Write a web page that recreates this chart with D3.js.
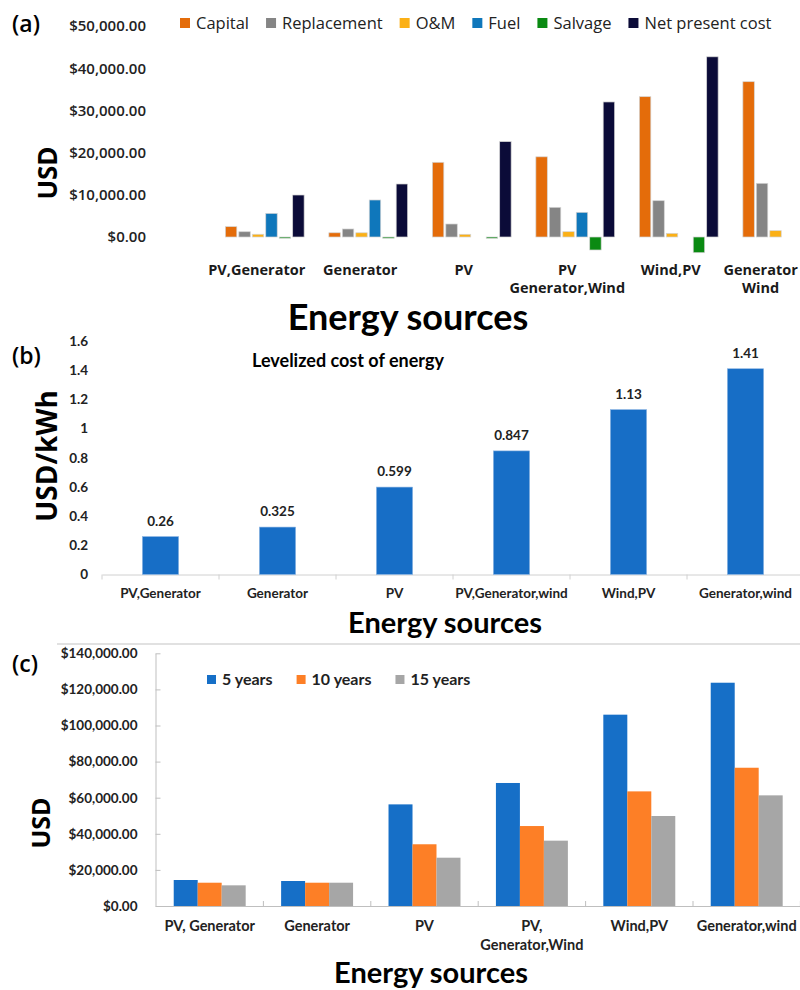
<!DOCTYPE html>
<html>
<head>
<meta charset="utf-8">
<script src="https://cdn.jsdelivr.net/npm/d3@7"></script>
<style>
  body { margin: 0; background: #fff; }
  svg { display: block; }
</style>
</head>
<body>
<svg id="chart" width="800" height="990"></svg>
<script>
// ---- panel (a): cost breakdown ----
var catsA = ["PV,Generator", "Generator", "PV", "PV\nGenerator,Wind", "Wind,PV", "Generator\nWind"];
var seriesA = ["Capital", "Replacement", "O&M", "Fuel", "Salvage", "Net present cost"];
var colorsA = ["#e46c0a", "#858585", "#fbb016", "#0f77bb", "#0a8a12", "#0b0b38"];
var capital = [2450, 1000, 17700, 19000, 33250, 36800];
var replacement = [1250, 1900, 3080, 7030, 8600, 12720];
var om = [650, 1000, 640, 1260, 870, 1500];
var fuel = [5600, 8770, 0, 5850, 0, 0];
var salvage = [-200, -200, -300, -3080, -3720, null];
var npc = [9950, 12560, 22600, 32000, 42700, null];
var ticksA = [0, 10000, 20000, 30000, 40000, 50000];

// ---- panel (b): levelized cost of energy ----
var catsB = ["PV,Generator", "Generator", "PV", "PV,Generator,wind", "Wind,PV", "Generator,wind"];
var lcoe = [0.26, 0.325, 0.599, 0.847, 1.13, 1.41];
var lcoeLabels = ["0.26", "0.325", "0.599", "0.847", "1.13", "1.41"];
var ticksB = [0, 0.2, 0.4, 0.6, 0.8, 1, 1.2, 1.4, 1.6];

// ---- panel (c): cost by project lifetime ----
var catsC = ["PV, Generator", "Generator", "PV", "PV,\nGenerator,Wind", "Wind,PV", "Generator,wind"];
var seriesC = ["5 years", "10 years", "15 years"];
var colorsC = ["#166fc7", "#fd7f26", "#a6a6a6"];
var years5 = [14400, 13850, 56300, 68150, 106000, 123700];
var years10 = [12900, 12900, 34200, 44300, 63500, 76600];
var years15 = [11450, 12900, 26760, 36200, 49860, 61300];
var ticksC = [0, 20000, 40000, 60000, 80000, 100000, 120000, 140000];

var svg = d3.select("#chart");
var money = d3.format(",.2f");

function multiLine(sel, lineH) {
  sel.each(function(d) {
    var t = d3.select(this);
    d.split("\n").forEach(function(line, i) {
      t.append("tspan").attr("x", t.attr("x")).attr("dy", i === 0 ? 0 : lineH).text(line);
    });
  });
}

// =============== (a) ===============
var valuesA = [capital, replacement, om, fuel, salvage, npc];
var gA = svg.append("g");

var xA = d3.scaleBand().domain(catsA).range([213, 834]).paddingInner(0.2).paddingOuter(0.1);
var xA1 = d3.scaleBand().domain(d3.range(seriesA.length)).range([0, xA.bandwidth()]).padding(0.15);
var yA = d3.scaleLinear().domain([0, 50000]).range([237, 26]);

gA.append("defs").append("clipPath").attr("id", "clipA")
  .append("rect").attr("x", 0).attr("y", 0).attr("width", 795).attr("height", 300);

gA.append("g")
  .attr("transform", "translate(150,0)")
  .call(d3.axisLeft(yA).tickValues(ticksA).tickSize(0).tickPadding(4)
    .tickFormat(function(d) { return "$" + money(d); }))
  .call(function(g) { g.select(".domain").remove(); })
  .selectAll("text")
  .style("font-family", "Open Sans").style("font-weight", "600").style("font-size", "15px").attr("fill", "#222");

var barsA = gA.append("g").attr("clip-path", "url(#clipA)");
catsA.forEach(function(c, i) {
  valuesA.forEach(function(vals, s) {
    var v = vals[i];
    if (v === null || v === 0) return;
    barsA.append("rect")
      .attr("x", xA(c) + xA1(s))
      .attr("y", Math.min(yA(v), yA(0)))
      .attr("width", xA1.bandwidth())
      .attr("height", Math.max(1.2, Math.abs(yA(v) - yA(0))))
      .attr("fill", colorsA[s])
      .attr("stroke", "#d4d4d4").attr("stroke-width", 0.7);
  });
});

// category labels, kept inside the right edge
gA.selectAll(".xlabA").data(catsA).enter().append("text")
  .attr("class", "xlabA")
  .attr("x", function(d) { return xA(d) + xA.bandwidth() / 2 - 8; })
  .attr("y", 275)
  .attr("text-anchor", "middle")
  .style("font-family", "Open Sans").style("font-weight", "bold").style("font-size", "14.5px")
  .attr("fill", "#1a1a1a")
  .call(multiLine, 18)
  .each(function() {
    var t = d3.select(this);
    var w = this.getBBox().width;
    var x = +t.attr("x");
    var maxX = 798 - w / 2;
    if (x > maxX) {
      t.attr("x", maxX);
      t.selectAll("tspan").attr("x", maxX);
    }
  });

// legend (a)
var legA = gA.append("g");
var lx = 180;
seriesA.forEach(function(s, i) {
  legA.append("rect").attr("x", lx).attr("y", 18).attr("width", 10).attr("height", 10).attr("fill", colorsA[i]);
  var t = legA.append("text").attr("x", lx + 16).attr("y", 29)
    .style("font-family", "Open Sans").style("font-size", "16.5px").attr("fill", "#222").text(s);
  lx += 16 + t.node().getComputedTextLength() + 17;
});

gA.append("text").attr("x", 12).attr("y", 32)
  .style("font-family", "Open Sans").style("font-weight", "600").style("font-size", "23px").attr("fill", "#000").text("(a)");
gA.append("text").attr("transform", "translate(57,173) rotate(-90)").attr("text-anchor", "middle")
  .style("font-family", "Open Sans").style("font-weight", "bold").style("font-size", "26px").text("USD");
gA.append("text").attr("x", 408).attr("y", 330).attr("text-anchor", "middle")
  .style("font-family", "Lato").style("font-weight", "bold").style("font-size", "36px").text("Energy sources");

// =============== (b) ===============
var gB = svg.append("g");
var xB = d3.scaleBand().domain(catsB).range([102, 804]).paddingInner(0.69).paddingOuter(0.345);
var yB = d3.scaleLinear().domain([0, 1.6]).range([574.5, 341]);

gB.append("g")
  .attr("transform", "translate(102,0)")
  .call(d3.axisLeft(yB).tickValues(ticksB).tickSize(0).tickPadding(14).tickFormat(d3.format("")))
  .call(function(g) { g.select(".domain").remove(); })
  .selectAll("text")
  .style("font-family", "Lato").style("font-weight", "bold").style("font-size", "13.5px").attr("fill", "#222");

gB.append("g")
  .attr("transform", "translate(0," + yB(0) + ")")
  .call(d3.axisBottom(xB).tickSize(0).tickFormat(""))
  .call(function(g) { g.select(".domain").attr("stroke", "#d0d0d0"); });

var stepB = xB.step();
gB.selectAll(".tickB").data(d3.range(catsB.length + 1)).enter().append("line")
  .attr("x1", function(i) { return xB(catsB[0]) - xB.paddingOuter() * stepB + i * stepB; })
  .attr("x2", function(i) { return xB(catsB[0]) - xB.paddingOuter() * stepB + i * stepB; })
  .attr("y1", yB(0)).attr("y2", yB(0) + 5).attr("stroke", "#d0d0d0");

gB.selectAll(".barB").data(lcoe).enter().append("rect")
  .attr("x", function(d, i) { return xB(catsB[i]); })
  .attr("y", function(d) { return yB(d); })
  .attr("width", xB.bandwidth())
  .attr("height", function(d) { return yB(0) - yB(d); })
  .attr("fill", "#176ec6").attr("stroke", "#8fb7e3").attr("stroke-width", 0.6);

gB.selectAll(".valB").data(lcoe).enter().append("text")
  .attr("x", function(d, i) { return xB(catsB[i]) + xB.bandwidth() / 2; })
  .attr("y", function(d) { return yB(d) - 11; })
  .attr("text-anchor", "middle")
  .style("font-family", "Lato").style("font-weight", "bold").style("font-size", "13.5px").attr("fill", "#222")
  .text(function(d, i) { return lcoeLabels[i]; });

gB.selectAll(".xlabB").data(catsB).enter().append("text")
  .attr("x", function(d) { return xB(d) + xB.bandwidth() / 2; })
  .attr("y", 598)
  .attr("text-anchor", "middle")
  .style("font-family", "Lato").style("font-weight", "bold").style("font-size", "13.5px").attr("fill", "#222")
  .text(function(d) { return d; });

gB.append("text").attr("x", 348).attr("y", 367).attr("text-anchor", "middle")
  .style("font-family", "Lato").style("font-weight", "bold").style("font-size", "18px")
  .text("Levelized cost of energy");

gB.append("text").attr("x", 12).attr("y", 364)
  .style("font-family", "Open Sans").style("font-weight", "600").style("font-size", "23px").text("(b)");
gB.append("text").attr("transform", "translate(57,456) rotate(-90)").attr("text-anchor", "middle")
  .style("font-family", "Open Sans").style("font-weight", "bold").style("font-size", "28px").text("USD/kWh");
gB.append("text").attr("x", 445).attr("y", 633).attr("text-anchor", "middle")
  .style("font-family", "Lato").style("font-weight", "bold").style("font-size", "29px").text("Energy sources");

// =============== (c) ===============
var valuesC = [years5, years10, years15];
var gC = svg.append("g");

gC.append("line").attr("x1", 57).attr("x2", 800).attr("y1", 644).attr("y2", 644)
  .attr("stroke", "#c4c4c4").attr("stroke-width", 1.2);

var xC = d3.scaleBand().domain(catsC).range([156, 800.4]).paddingInner(0.33).paddingOuter(0.165);
var xC1 = d3.scaleBand().domain(d3.range(seriesC.length)).range([0, xC.bandwidth()]);
var yC = d3.scaleLinear().domain([0, 140000]).range([906, 653.3]);

gC.append("g")
  .attr("transform", "translate(155.5,0)")
  .call(d3.axisLeft(yC).tickValues(ticksC).tickSizeInner(-5).tickSizeOuter(0).tickPadding(18)
    .tickFormat(function(d) { return "$" + money(d); }))
  .call(function(g) {
    g.select(".domain").attr("stroke", "#bfbfbf");
    g.selectAll(".tick line").attr("stroke", "#bfbfbf");
  })
  .selectAll("text")
  .style("font-family", "Lato").style("font-weight", "bold").style("font-size", "13.5px").attr("fill", "#222");

gC.append("g")
  .attr("transform", "translate(0," + yC(0) + ")")
  .call(d3.axisBottom(xC).tickSize(0).tickFormat(""))
  .call(function(g) { g.select(".domain").attr("stroke", "#bfbfbf"); });

var stepC = xC.step();
var startC = xC(catsC[0]) - xC.paddingOuter() * stepC;
gC.selectAll(".tickC").data(d3.range(1, catsC.length + 1)).enter().append("line")
  .attr("x1", function(i) { return startC + i * stepC; })
  .attr("x2", function(i) { return startC + i * stepC; })
  .attr("y1", yC(0)).attr("y2", yC(0) - 5).attr("stroke", "#bfbfbf");

catsC.forEach(function(c, i) {
  valuesC.forEach(function(vals, s) {
    gC.append("rect")
      .attr("x", xC(c) + xC1(s))
      .attr("y", yC(vals[i]))
      .attr("width", xC1.bandwidth())
      .attr("height", yC(0) - yC(vals[i]))
      .attr("fill", colorsC[s]);
  });
});

gC.selectAll(".xlabC").data(catsC).enter().append("text")
  .attr("x", function(d) { return xC(d) + xC.bandwidth() / 2; })
  .attr("y", 931)
  .attr("text-anchor", "middle")
  .style("font-family", "Lato").style("font-weight", "bold").style("font-size", "14.5px").attr("fill", "#222")
  .call(multiLine, 19);

var legC = gC.append("g");
var cx = 207;
seriesC.forEach(function(s, i) {
  legC.append("rect").attr("x", cx).attr("y", 675).attr("width", 9).attr("height", 9).attr("fill", colorsC[i]);
  var t = legC.append("text").attr("x", cx + 15).attr("y", 685)
    .style("font-family", "Lato").style("font-weight", "bold").style("font-size", "16px").attr("fill", "#222").text(s);
  cx += 15 + t.node().getComputedTextLength() + 24;
});

gC.append("text").attr("x", 12).attr("y", 672)
  .style("font-family", "Open Sans").style("font-weight", "600").style("font-size", "23px").text("(c)");
gC.append("text").attr("transform", "translate(50,823) rotate(-90)").attr("text-anchor", "middle")
  .style("font-family", "Open Sans").style("font-weight", "bold").style("font-size", "25px").text("USD");
gC.append("text").attr("x", 431).attr("y", 983).attr("text-anchor", "middle")
  .style("font-family", "Lato").style("font-weight", "bold").style("font-size", "29px").text("Energy sources");
</script>
</body>
</html>
